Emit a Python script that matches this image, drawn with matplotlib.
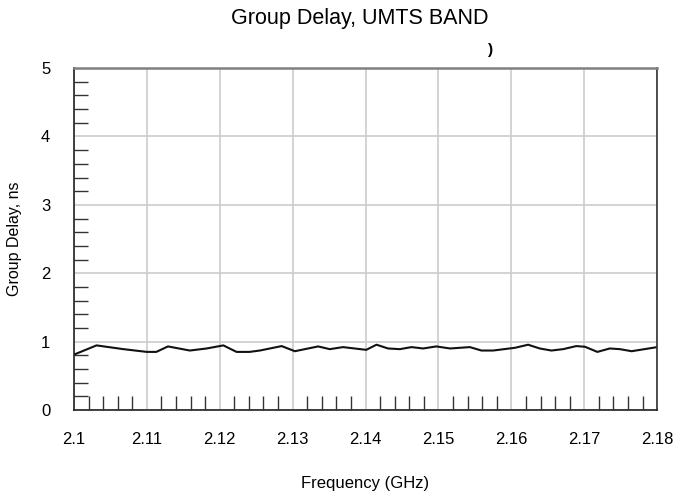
import matplotlib
matplotlib.use("Agg")
import matplotlib.pyplot as plt
from matplotlib.ticker import MultipleLocator, FuncFormatter

freq_ghz = [2.1, 2.1031, 2.1068, 2.1100, 2.1113, 2.1129, 2.1159, 2.1182, 2.1205, 2.1223,
            2.1241, 2.1255, 2.1285, 2.1303, 2.1335, 2.1351, 2.1369, 2.1401, 2.1415, 2.1431,
            2.1447, 2.1463, 2.1479, 2.1497, 2.1516, 2.1543, 2.1559, 2.1575, 2.1605, 2.1623,
            2.1639, 2.1655, 2.1671, 2.1689, 2.1701, 2.1718, 2.1735, 2.1749, 2.1765, 2.18]
delay_ns = [0.81, 0.945, 0.89, 0.85, 0.85, 0.93, 0.87, 0.90, 0.945, 0.85,
            0.85, 0.87, 0.935, 0.86, 0.93, 0.89, 0.92, 0.88, 0.955, 0.90,
            0.89, 0.92, 0.90, 0.93, 0.90, 0.92, 0.87, 0.87, 0.91, 0.955,
            0.90, 0.87, 0.89, 0.935, 0.925, 0.85, 0.90, 0.89, 0.86, 0.92]

title = "Group Delay, UMTS BAND"
xlabel = "Frequency (GHz)"
ylabel = "Group Delay, ns"

plt.rcParams['font.family'] = ['Liberation Sans', 'DejaVu Sans']
fig = plt.figure(figsize=(6.91, 4.97), dpi=100)
ax = fig.add_axes([0.107, 0.175, 0.844, 0.688])

ax.plot(freq_ghz, delay_ns, color='#111111', lw=1.5)
ax.set_xlim(2.1, 2.18)
ax.set_ylim(0, 5)
ax.xaxis.set_major_locator(MultipleLocator(0.01))
ax.xaxis.set_minor_locator(MultipleLocator(0.002))
ax.yaxis.set_major_locator(MultipleLocator(1))
ax.yaxis.set_minor_locator(MultipleLocator(0.2))
ax.xaxis.set_major_formatter(FuncFormatter(lambda v, p: f"{v:.2f}".rstrip('0')))
ax.grid(True, which='major', color='#cccccc', lw=1.2)
ax.tick_params(which='major', length=0, labelsize=12)
ax.tick_params(axis='x', which='major', pad=16)
ax.tick_params(axis='y', which='major', pad=17)
ax.tick_params(which='minor', direction='in', length=10, width=1, color='#333333')

ax.spines['top'].set_color('#808080')
ax.spines['top'].set_linewidth(1.8)
ax.spines['left'].set_color('#222222')
ax.spines['bottom'].set_color('#222222')
ax.spines['right'].set_color('#333333')
for s in ['left', 'bottom', 'right']:
    ax.spines[s].set_linewidth(1.2)

ax.set_xlabel(xlabel, fontsize=12, labelpad=21)
ax.set_ylabel(ylabel, fontsize=11.5, labelpad=14)
fig.text(0.52, 0.962, title, fontsize=15.5, ha='center', va='center')
fig.text(0.71, 0.9, ")", fontsize=11, fontweight='bold', ha='center', va='center')

fig.savefig("out.png", dpi=100)
